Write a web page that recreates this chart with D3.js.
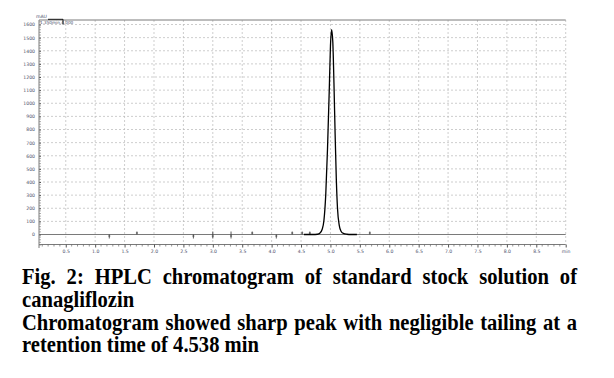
<!DOCTYPE html>
<html>
<head>
<meta charset="utf-8">
<script src="https://cdn.jsdelivr.net/npm/d3@7"></script>
<style>
  body { margin: 0; background: #fff; }
  svg { display: block; }
</style>
</head>
<body>
<div id="chart"></div>
<script>
const WIDTH = 614;
const HEIGHT = 378;

// retention time (min) / signal (mAU)
const peakTime = [4.55, 4.70, 4.78, 4.82, 4.86, 4.89, 4.92, 4.95, 4.98, 5.00, 5.02, 5.04, 5.06, 5.08, 5.10, 5.12, 5.15, 5.18, 5.22, 5.28, 5.35, 5.45];
const peakSignal = [0, 0, 2, 10, 40, 110, 300, 650, 1100, 1430, 1560, 1470, 1150, 760, 420, 200, 70, 25, 8, 2, 0, 0];

// integration event marks along the baseline
const eventTimes = [1.24, 1.71, 2.67, 3.0, 3.31, 3.67, 4.08, 4.35, 4.52, 4.65, 5.67];
const eventSides = ['down', 'up', 'down', 'both', 'both', 'up', 'down', 'up', 'up', 'up', 'up'];

const yTickValues = [0, 100, 200, 300, 400, 500, 600, 700, 800, 900, 1000, 1100, 1200, 1300, 1400, 1500, 1600];
const xTickValues = [0.5, 1.0, 1.5, 2.0, 2.5, 3.0, 3.5, 4.0, 4.5, 5.0, 5.5, 6.0, 6.5, 7.0, 7.5, 8.0, 8.5, 9.0];
const xTickLabels = ['0.5', '1.0', '1.5', '2.0', '2.5', '3.0', '3.5', '4.0', '4.5', '5.0', '5.5', '6.0', '6.5', '7.0', '7.5', '8.0', '8.5', 'min'];

const captionLines = [
  { text: 'Fig. 2: HPLC chromatogram of standard stock solution of', justify: true },
  { text: 'canagliflozin', justify: false },
  { text: 'Chromatogram showed sharp peak with negligible tailing at a', justify: true },
  { text: 'retention time of 4.538 min', justify: false },
];

const PLOT = { LEFT: 39, RIGHT: 565.7, TOP: 20, ZERO: 234.5, AXIS_Y: 244.5, AXIS_BOTTOM: 248 };
const GRID = '#b8b8b8';
const FRAME = '#7a7a7a';
const TICK_FONT = 4.6;

const svg = d3.select('#chart')
  .append('svg')
  .attr('width', WIDTH)
  .attr('height', HEIGHT);

const x = d3.scaleLinear().domain([0.045, 9]).range([PLOT.LEFT, PLOT.RIGHT]);
const y = d3.scaleLinear().domain([0, 1600]).range([PLOT.ZERO, 24.5]);

const grid = svg.append('g');

// horizontal dashed grid
grid.selectAll('line.h')
  .data(yTickValues.filter((d) => d > 0))
  .join('line')
  .attr('class', 'h')
  .attr('x1', PLOT.LEFT)
  .attr('x2', PLOT.RIGHT)
  .attr('y1', (d) => y(d))
  .attr('y2', (d) => y(d))
  .attr('stroke', GRID)
  .attr('stroke-width', 0.7)
  .attr('stroke-dasharray', '2,2');

// vertical dashed grid
grid.selectAll('line.v')
  .data(xTickValues)
  .join('line')
  .attr('class', 'v')
  .attr('x1', (d) => x(d))
  .attr('x2', (d) => x(d))
  .attr('y1', PLOT.TOP)
  .attr('y2', PLOT.AXIS_Y)
  .attr('stroke', GRID)
  .attr('stroke-width', 0.7)
  .attr('stroke-dasharray', '2,2');

// top frame
svg.append('line')
  .attr('x1', PLOT.LEFT).attr('x2', PLOT.RIGHT)
  .attr('y1', PLOT.TOP).attr('y2', PLOT.TOP)
  .attr('stroke', FRAME).attr('stroke-width', 1);

// zero baseline
svg.append('line')
  .attr('x1', PLOT.LEFT).attr('x2', PLOT.RIGHT)
  .attr('y1', y(0)).attr('y2', y(0))
  .attr('stroke', FRAME).attr('stroke-width', 1.1);

// y axis
const yAxisG = svg.append('g')
  .attr('transform', `translate(${PLOT.LEFT},0)`)
  .call(d3.axisLeft(y).tickValues(yTickValues).tickSize(3).tickPadding(1).tickFormat(d3.format('d')));
yAxisG.select('.domain').remove();
yAxisG.selectAll('.tick line').attr('stroke', '#555').attr('x2', 2);
yAxisG.selectAll('.tick text')
  .attr('font-family', 'DejaVu Sans, sans-serif')
  .attr('font-size', TICK_FONT)
  .attr('fill', '#4a4f6a');
yAxisG.append('line')
  .attr('y1', PLOT.TOP).attr('y2', PLOT.AXIS_BOTTOM)
  .attr('stroke', FRAME).attr('stroke-width', 1);
const yMinor = d3.range(-80, 1621, 20).filter((d) => d % 100 !== 0);
yAxisG.selectAll('line.minor')
  .data(yMinor)
  .join('line')
  .attr('class', 'minor')
  .attr('x1', 0).attr('x2', 2)
  .attr('y1', (d) => y(d)).attr('y2', (d) => y(d))
  .attr('stroke', '#777').attr('stroke-width', 0.6);

// x axis
const xAxisG = svg.append('g')
  .attr('transform', `translate(0,${PLOT.AXIS_Y})`)
  .call(d3.axisBottom(x).tickValues(xTickValues).tickSize(3).tickPadding(2)
    .tickFormat((d, i) => xTickLabels[i]));
xAxisG.select('.domain').attr('stroke', FRAME).attr('d', `M${PLOT.LEFT},0H${PLOT.RIGHT}`);
xAxisG.selectAll('.tick line').attr('stroke', '#555');
xAxisG.selectAll('.tick text')
  .attr('font-family', 'DejaVu Sans, sans-serif')
  .attr('font-size', TICK_FONT)
  .attr('fill', '#4a4f6a');
const xMinor = d3.range(1, 90).map((d) => d / 10).filter((d) => Math.round(d * 10) % 5 !== 0);
xAxisG.selectAll('line.minor')
  .data(xMinor)
  .join('line')
  .attr('class', 'minor')
  .attr('x1', (d) => x(d)).attr('x2', (d) => x(d))
  .attr('y1', 0).attr('y2', 2)
  .attr('stroke', '#666').attr('stroke-width', 0.7);

// event marks
const events = svg.append('g')
  .attr('stroke', '#333')
  .attr('stroke-width', 0.8);
events.selectAll('g')
  .data(eventTimes.map((t, i) => ({ t, side: eventSides[i] })))
  .join('g')
  .attr('transform', ({ t }) => `translate(${x(t)},${y(0)})`)
  .each(function ({ side }) {
    const g = d3.select(this);
    const up = side === 'up' || side === 'both';
    const down = side === 'down' || side === 'both';
    g.append('line')
      .attr('y1', up ? -3 : 0)
      .attr('y2', down ? 4 : 0);
    g.append('line')
      .attr('x1', -1).attr('x2', 1)
      .attr('y1', down ? 1.5 : -1.5)
      .attr('y2', down ? 1.5 : -1.5);
  });

// chromatogram trace
const line = d3.line()
  .x((d) => x(d[0]))
  .y((d) => y(d[1]))
  .curve(d3.curveMonotoneX);
svg.append('path')
  .datum(peakTime.map((t, i) => [t, peakSignal[i]]))
  .attr('d', line)
  .attr('fill', 'none')
  .attr('stroke', '#000')
  .attr('stroke-width', 1.3);

// unit label and cursor box
svg.append('text')
  .attr('x', 36).attr('y', 17.5)
  .attr('font-family', 'DejaVu Sans, sans-serif')
  .attr('font-size', 4.6)
  .attr('fill', '#4a4f6a')
  .text('mAU');
svg.append('text')
  .attr('x', 40).attr('y', 23.5)
  .attr('font-family', 'DejaVu Sans, sans-serif')
  .attr('font-size', 4.2)
  .attr('fill', '#4a4f6a')
  .text('1.350min,4.000');
svg.append('path')
  .attr('d', 'M48,19.3H63V24.5')
  .attr('fill', 'none')
  .attr('stroke', '#000')
  .attr('stroke-width', 0.9);

// caption, justified like the source page (glyphs a little taller than wide)
const CAPTION = { LEFT: 22, RIGHT: 577, FIRST_BASELINE: 284, LINE_HEIGHT: 22.8, SIZE: 20.6, STRETCH: 1.1 };
const caption = svg.append('g')
  .attr('font-family', 'Liberation Serif, Times New Roman, serif')
  .attr('font-weight', 'bold')
  .attr('font-size', CAPTION.SIZE)
  .attr('fill', '#000');

captionLines.forEach(({ text, justify }, row) => {
  const baseline = CAPTION.FIRST_BASELINE + row * CAPTION.LINE_HEIGHT;
  const rowG = caption.append('g')
    .attr('transform', `translate(0,${baseline}) scale(1,${CAPTION.STRETCH})`);
  if (!justify) {
    rowG.append('text').attr('x', CAPTION.LEFT).text(text);
    return;
  }
  const words = text.split(' ');
  const nodes = words.map((w) => rowG.append('text').text(w));
  const widths = nodes.map((n) => n.node().getComputedTextLength());
  const gap = (CAPTION.RIGHT - CAPTION.LEFT - d3.sum(widths)) / (words.length - 1);
  let cursor = CAPTION.LEFT;
  nodes.forEach((n, i) => {
    n.attr('x', cursor);
    cursor += widths[i] + gap;
  });
});
</script>
</body>
</html>
